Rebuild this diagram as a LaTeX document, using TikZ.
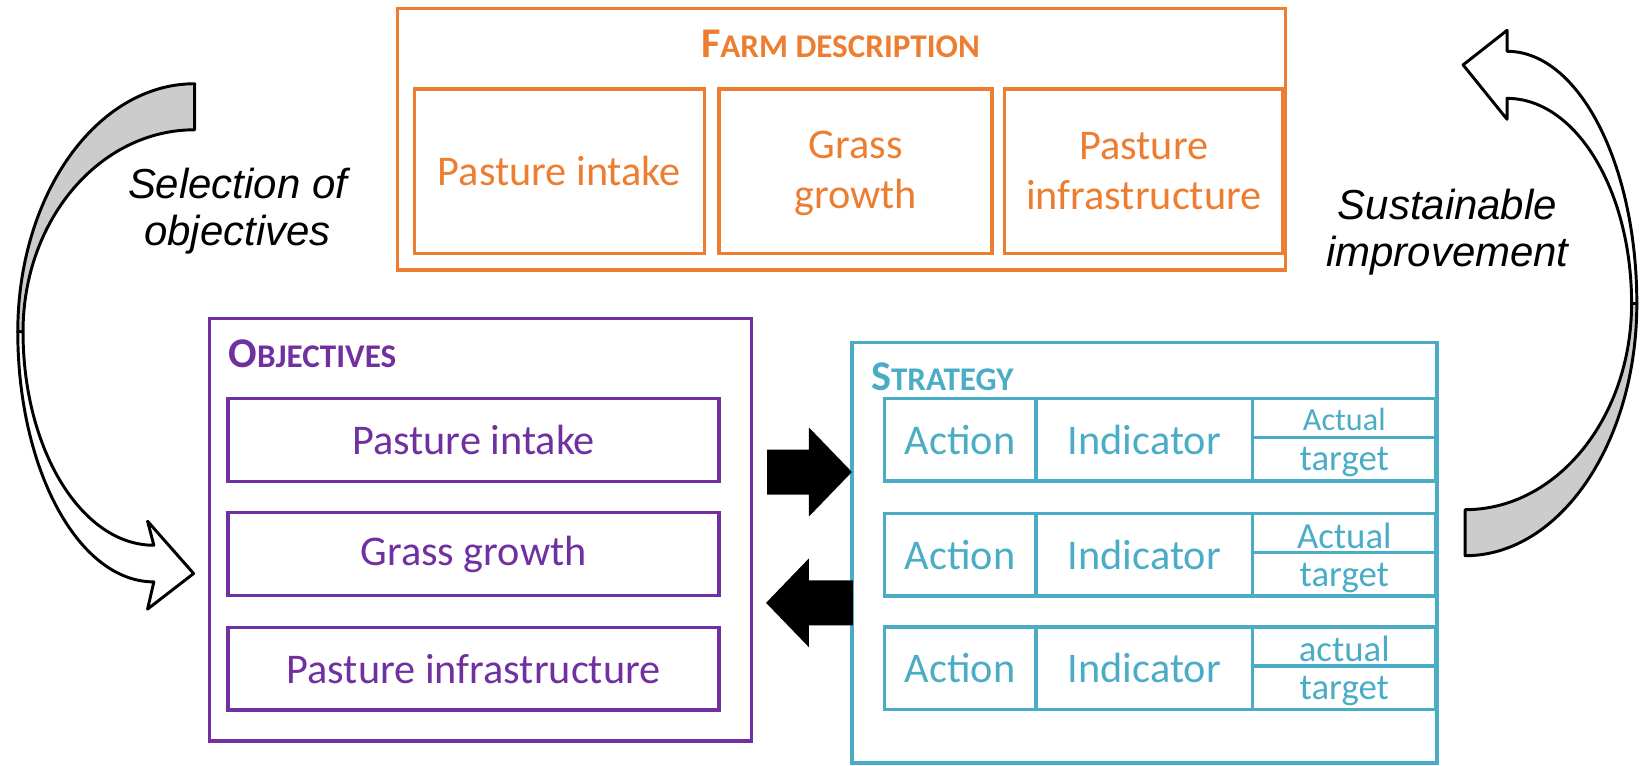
\documentclass[tikz,border=0pt]{standalone}
\usepackage{fontspec}
\setmainfont{Carlito}
\newfontfamily\labelfont{Liberation Sans}
\usetikzlibrary{calc}
\definecolor{farm}{HTML}{ED7D31}
\definecolor{objv}{HTML}{7030A0}
\definecolor{strat}{HTML}{4BACC6}
\definecolor{backside}{HTML}{CCCCCC}
\tikzstyle{box} = [draw, line width=1.8pt, inner sep=0pt, outer sep=0pt, align=center, font=\fontsize{23}{27.5}\selectfont]
\tikzstyle{cell} = [box, minimum height=15.8mm]
\tikzstyle{title} = [inner sep=0pt, font=\bfseries]
\tikzstyle{loopband} = [draw=black, line width=1.6pt, line join=round]
\tikzstyle{loop label} = [align=center, font=\labelfont\itshape\fontsize{22.8}{25.5}\selectfont]
\newcommand{\heading}[2]{{\fontsize{23}{23}\selectfont #1}{\fontsize{18}{18}\selectfont #2}}
\newcommand{\blockarrow}[2]{
\coordinate (neck) at ($(#2)!8.2mm!(#1)$);
\fill ($(#1)!4.3mm!90:(#2)$) -- ($(neck)!4.3mm!90:(#2)$) -- ($(neck)!8.5mm!90:(#2)$) -- (#2)
  -- ($(neck)!8.5mm!-90:(#2)$) -- ($(neck)!4.3mm!-90:(#2)$) -- ($(#1)!4.3mm!-90:(#2)$) -- cycle;
}

\begin{document}
\begin{tikzpicture}[x=0.2mm, y=-0.2mm]
		\useasboundingbox (0,0) rectangle (1568,731);
		
		% Coordinates
		\coordinate (toS) at (733,451);
		\coordinate (toStip) at (814,451);
		\coordinate (toO) at (815,576);
		\coordinate (toOtip) at (732,576);
		
		% Farm description
		\node[box, farm, minimum width=169.6mm, minimum height=50mm] (farm) at (804,133) {};
		\node[title, farm] (farmtitle) at (803,42) {\heading{F}{ARM DESCRIPTION}};
		\node[box, farm, minimum width=55.4mm, minimum height=31.4mm] (fintake) at (534.5,163.5) {Pasture intake};
		\node[box, farm, minimum width=52.2mm, minimum height=31.4mm, text depth=0.3ex] (fgrowth) at (817.5,163.5) {Grass\\growth};
		\node[box, farm, minimum width=53.2mm, minimum height=31.4mm] (finfra) at (1093,163.5) {Pasture\\infrastructure};
		
		% Objectives
		\node[box, objv, minimum width=103.6mm, minimum height=80.8mm] (obj) at (459,506) {};
		\node[title, objv, anchor=west] (objtitle) at (218,338) {\heading{O}{BJECTIVES}};
		\node[cell, objv, minimum width=93.8mm] (ointake) at (452.5,420.5) {Pasture intake};
		\node[cell, objv, minimum width=93.8mm] (ogrowth) at (452.5,529.5) {Grass growth};
		\node[cell, objv, minimum width=93.8mm] (oinfra) at (452.5,639) {Pasture infrastructure};
		
		% Strategy
		\node[box, strat, minimum width=111.8mm, minimum height=80.4mm] (strat) at (1093.5,528) {};
		\node[title, strat, anchor=west] (strattitle) at (832,360) {\heading{S}{TRATEGY}};
		\foreach \n/\c/\a/\s/\b in {1/420/Actual/17.5/-9, 2/530/Actual/20/-6, 3/638.5/actual/20/-6.5}
		{
			\node[cell, strat, minimum width=29mm] (act\n) at (917.5,\c) {Action};
			\node[cell, strat, minimum width=41.4mm] (ind\n) at (1093.5,\c) {Indicator};
			\node[cell, strat, minimum width=35mm] (val\n) at (1284.5,\c) {};
			\draw[strat, line width=1.8pt] ([yshift=0.4mm]val\n.west) -- ([yshift=0.4mm]val\n.east);
			\node[strat, inner sep=0pt, anchor=base, font=\fontsize{\s}{\s}\selectfont] (actual\n) at ($(val\n.center)+(0,\b)$) {\a};
			\node[strat, inner sep=0pt, anchor=base, font=\fontsize{20}{20}\selectfont] (target\n) at ($(val\n.center)+(0,30)$) {target};
		}
		
		% Block arrows
		\blockarrow{toS}{toStip}
		\blockarrow{toO}{toOtip}
		
		% Loop arrows
		%% Left
		\path[loopband, fill=backside] (186,80) .. controls (92.5,80) and (17,186) .. (17,317)
			-- (22,317) .. controls (22,210) and (95.3,124) .. (186,124) -- cycle;
		\path[loopband, fill=white] (17,317) .. controls (17,449) and (75.2,556) .. (147,556)
			-- (141,582) -- (185,548) -- (141,498) -- (147,521)
			.. controls (78,521) and (22,429.7) .. (22,317) -- cycle;
		%% Right
		\path[loopband, fill=white] (1564,290) .. controls (1564,156.9) and (1508.5,49) .. (1440,49)
			-- (1440,29) -- (1398,62) -- (1440,114) -- (1440,94)
			.. controls (1505.7,94) and (1559,181.8) .. (1559,290) -- cycle;
		\path[loopband, fill=backside] (1564,290) .. controls (1564,423.1) and (1490.6,531) .. (1400,531)
			-- (1400,487) .. controls (1487.8,487) and (1559,398.8) .. (1559,290) -- cycle;
		
		% Labels
		\node[loop label] (select) at (227,202) {Selection of\\objectives};
		\node[loop label] (improve) at (1383,222) {Sustainable\\improvement};
	\end{tikzpicture}
\end{document}
